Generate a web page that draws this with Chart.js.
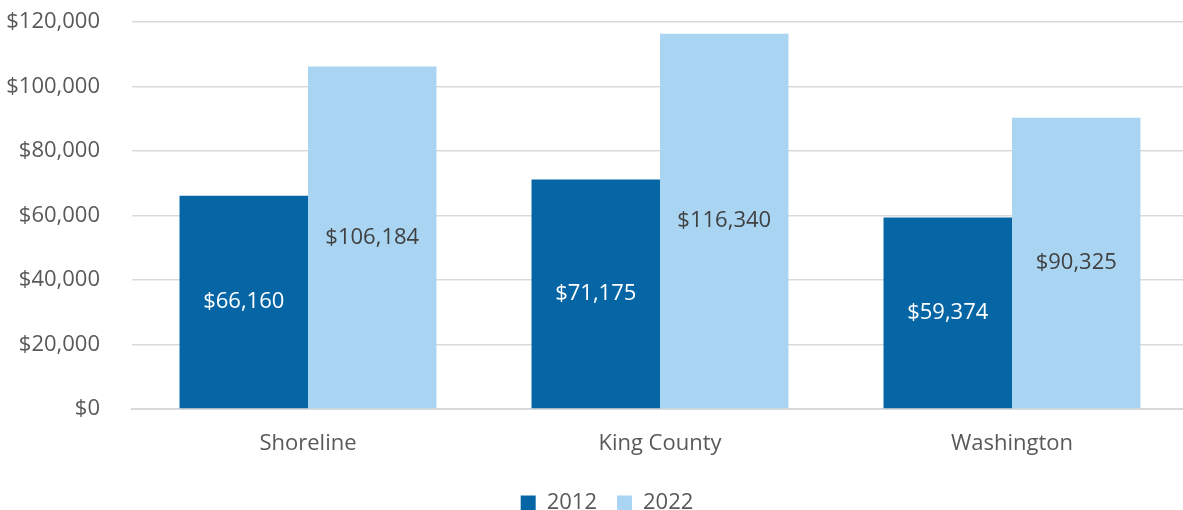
<!DOCTYPE html>
<html>
<head>
<meta charset="utf-8">
<script src="https://cdn.jsdelivr.net/npm/chart.js@4/dist/chart.umd.min.js"></script>
<style>
  html, body { margin:0; padding:0; background:#fff; overflow:hidden; }
  #wrap { width:1188px; height:524px; position:relative; }
</style>
</head>
<body>
<div id="wrap"><canvas id="incomeChart"></canvas></div>
<script>
const places = ['Shoreline', 'King County', 'Washington'];
const years = ['2012', '2022'];
const income2012 = [66160, 71175, 59374];
const income2022 = [106184, 116340, 90325];
const barColors = ['#0666a5', '#a9d5f2'];
const labelColors = ['#ffffff', '#404040'];

const FONT = '"Open Sans", "Noto Sans", sans-serif';
const TEXT = '#595959';
const fmtUSD = v => '$' + new Intl.NumberFormat('en-US', {maximumFractionDigits:0}).format(Number(v||0));

// value labels centred inside each bar
const barLabels = {
  id: 'barLabels',
  afterDatasetsDraw(chart) {
    const ctx = chart.ctx;
    ctx.save();
    ctx.font = `22px ${FONT}`;
    ctx.textAlign = 'center';
    ctx.textBaseline = 'middle';
    chart.data.datasets.forEach((ds, i) => {
      const meta = chart.getDatasetMeta(i);
      ctx.fillStyle = labelColors[i];
      meta.data.forEach((bar, j) => {
        ctx.fillText(fmtUSD(ds.data[j]), bar.x, (bar.y + bar.base) / 2);
      });
    });
    ctx.restore();
  }
};

// nudge the legend a little right, under the plot rather than the canvas
const legendShift = {
  id: 'legendShift',
  afterLayout(chart) {
    if (chart.legend) { chart.legend.left += 13; chart.legend.right += 13; }
  }
};

new Chart(document.getElementById('incomeChart'), {
  type: 'bar',
  data: {
    labels: places,
    datasets: [
      {label: years[0], data: income2012, backgroundColor: barColors[0]},
      {label: years[1], data: income2022, backgroundColor: barColors[1]}
    ]
  },
  options: {
    responsive: true,
    maintainAspectRatio: false,
    animation: false,
    categoryPercentage: 0.73,
    barPercentage: 1.0,
    layout: {padding: {top: 22, right: 0, bottom: 0, left: 0}},
    plugins: {
      tooltip: {enabled: false},
      legend: {
        position: 'bottom',
        labels: {
          color: TEXT,
          font: {family: FONT, size: 22},
          boxWidth: 15,
          boxHeight: 15,
          padding: 20
        }
      }
    },
    scales: {
      x: {
        grid: {display: false},
        border: {display: true, color: '#d9d9d9', width: 2},
        ticks: {color: TEXT, font: {family: FONT, size: 22}, padding: 14},
        afterFit(axis) { axis.height = 63; }
      },
      y: {
        min: 0,
        max: 120000,
        grid: {color: '#d9d9d9', lineWidth: 1.5, drawTicks: true, tickLength: 32, tickColor: 'rgba(0,0,0,0)'},
        border: {display: false},
        ticks: {
          stepSize: 20000,
          color: TEXT,
          font: {family: FONT, size: 22},
          padding: 0,
          callback: v => fmtUSD(v)
        },
        afterFit(axis) { axis.width = 132; }
      }
    }
  },
  plugins: [barLabels, legendShift]
});
</script>
</body>
</html>
